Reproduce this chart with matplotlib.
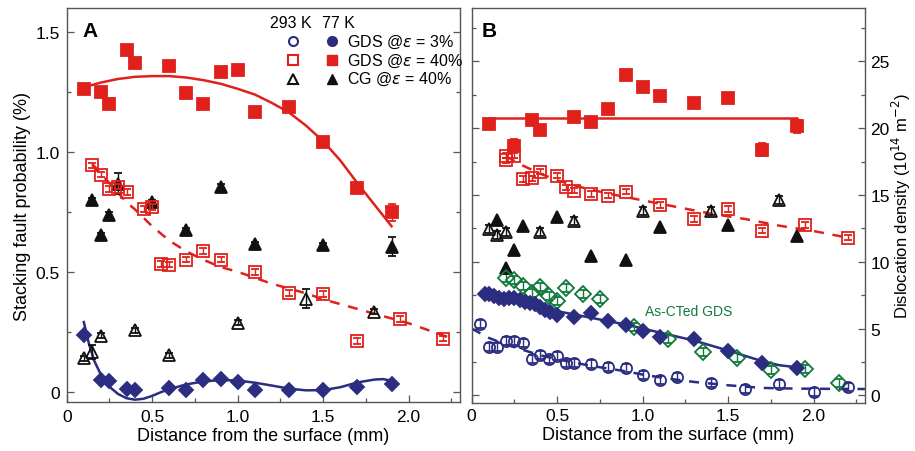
import numpy as np
import matplotlib.pyplot as plt
from matplotlib.ticker import MultipleLocator

plt.rcParams["font.family"] = ["Liberation Sans", "DejaVu Sans"]
plt.rcParams["mathtext.fontset"] = "dejavusans"

RED = "#e0201b"
BLUE = "#2a2d80"
GREEN = "#127a3c"
BLACK = "#111111"
SPINE = "#555555"

################################################################################
# Panel A - stacking fault probability (%)
################################################################################

# GDS @ 40%, 77 K (filled squares)
a_gds40_77_x = [0.1, 0.2, 0.25, 0.35, 0.4, 0.6, 0.7, 0.8, 0.9, 1.0, 1.1, 1.3, 1.5, 1.7, 1.9]
a_gds40_77_y = [1.263, 1.249, 1.202, 1.426, 1.370, 1.360, 1.245, 1.202, 1.335, 1.342, 1.168, 1.186, 1.040, 0.851, 0.748]
a_gds40_77_e = [0.02, 0.02, 0.02, 0.02, 0.02, 0.02, 0.02, 0.02, 0.02, 0.02, 0.02, 0.02, 0.02, 0.02, 0.035]

# GDS @ 40%, 293 K (open squares)
a_gds40_293_x = [0.15, 0.2, 0.25, 0.3, 0.35, 0.45, 0.5, 0.55, 0.6, 0.7, 0.8, 0.9, 1.1, 1.3, 1.5, 1.7, 1.95, 2.2]
a_gds40_293_y = [0.944, 0.906, 0.847, 0.856, 0.833, 0.763, 0.770, 0.532, 0.530, 0.551, 0.588, 0.551, 0.500, 0.412, 0.406, 0.212, 0.302, 0.221]
a_gds40_293_e = [0.012] * 18

# CG @ 40%, 77 K (filled triangles)
a_cg40_77_x = [0.15, 0.2, 0.25, 0.3, 0.5, 0.7, 0.9, 1.1, 1.5, 1.9]
a_cg40_77_y = [0.798, 0.652, 0.739, 0.868, 0.790, 0.674, 0.855, 0.615, 0.611, 0.604]
a_cg40_77_e = [0.01, 0.01, 0.01, 0.045, 0.01, 0.01, 0.01, 0.01, 0.01, 0.04]

# CG @ 40%, 293 K (open triangles)
a_cg40_293_x = [0.1, 0.15, 0.2, 0.4, 0.6, 1.0, 1.4, 1.8]
a_cg40_293_y = [0.138, 0.166, 0.233, 0.256, 0.152, 0.288, 0.388, 0.333]
a_cg40_293_e = [0.01, 0.03, 0.01, 0.01, 0.01, 0.01, 0.04, 0.01]

# GDS @ 3%, 77 K (filled diamonds)
a_gds3_77_x = [0.1, 0.2, 0.25, 0.35, 0.4, 0.6, 0.7, 0.8, 0.9, 1.0, 1.1, 1.3, 1.5, 1.7, 1.9]
a_gds3_77_y = [0.238, 0.050, 0.045, 0.010, 0.008, 0.015, 0.005, 0.050, 0.054, 0.040, 0.008, 0.008, 0.008, 0.017, 0.033]

# Fitted curves
a_fit_red_x = [0.1, 0.2, 0.3, 0.4, 0.5, 0.6, 0.7, 0.8, 0.9, 1.0, 1.1, 1.2, 1.3, 1.4, 1.5, 1.6, 1.7, 1.8, 1.9]
a_fit_red_y = [1.270, 1.290, 1.305, 1.314, 1.317, 1.317, 1.311, 1.300, 1.285, 1.264, 1.240, 1.205, 1.165, 1.110, 1.045, 0.965, 0.870, 0.780, 0.690]

a_fit_reddash_x = [0.15, 0.2, 0.25, 0.3, 0.35, 0.4, 0.5, 0.6, 0.7, 0.8, 0.9, 1.0, 1.1, 1.2, 1.3, 1.4, 1.5, 1.6, 1.7, 1.8, 1.9, 2.0, 2.1, 2.2, 2.25]
a_fit_reddash_y = [0.950, 0.910, 0.870, 0.830, 0.790, 0.760, 0.690, 0.630, 0.585, 0.550, 0.520, 0.500, 0.475, 0.450, 0.430, 0.410, 0.385, 0.365, 0.345, 0.325, 0.305, 0.285, 0.260, 0.235, 0.220]

a_fit_blue_x = [0.1, 0.13, 0.16, 0.2, 0.25, 0.3, 0.35, 0.4, 0.45, 0.5, 0.55, 0.6, 0.7, 0.8, 0.9, 1.0, 1.1, 1.2, 1.3, 1.4, 1.5, 1.6, 1.7, 1.8, 1.85, 1.9]
a_fit_blue_y = [0.290, 0.200, 0.130, 0.070, 0.020, -0.010, -0.028, -0.034, -0.030, -0.018, -0.003, 0.010, 0.030, 0.042, 0.048, 0.046, 0.037, 0.025, 0.012, 0.005, 0.006, 0.018, 0.038, 0.050, 0.052, 0.045]

################################################################################
# Panel B - dislocation density (10^14 m^-2)
################################################################################

b_gds40_77_x = [0.1, 0.25, 0.35, 0.4, 0.6, 0.7, 0.8, 0.9, 1.0, 1.1, 1.3, 1.5, 1.7, 1.9]
b_gds40_77_y = [20.33, 18.70, 20.58, 19.90, 20.83, 20.50, 21.45, 24.00, 23.08, 22.38, 21.90, 22.28, 18.40, 20.15]
b_gds40_77_e = [0.3, 0.5, 0.3, 0.3, 0.3, 0.3, 0.3, 0.3, 0.3, 0.3, 0.3, 0.3, 0.5, 0.5]

b_gds40_293_x = [0.2, 0.2, 0.25, 0.3, 0.35, 0.4, 0.5, 0.55, 0.6, 0.7, 0.8, 0.9, 1.1, 1.3, 1.5, 1.7, 1.95, 2.2]
b_gds40_293_y = [17.95, 17.60, 17.95, 16.20, 16.25, 16.75, 16.45, 15.58, 15.33, 15.08, 14.95, 15.25, 14.25, 13.20, 13.95, 12.33, 12.75, 11.80]
b_gds40_293_e = [0.2] * 18

b_cg40_77_x = [0.15, 0.2, 0.25, 0.3, 0.5, 0.7, 0.9, 1.1, 1.5, 1.9]
b_cg40_77_y = [13.10, 9.50, 10.85, 12.65, 13.33, 10.42, 10.15, 12.58, 12.75, 11.95]

b_cg40_293_x = [0.1, 0.15, 0.2, 0.4, 0.6, 1.0, 1.4, 1.8]
b_cg40_293_y = [12.45, 12.00, 12.20, 12.20, 13.08, 13.83, 13.83, 14.63]
b_cg40_293_e = [0.3] * 8

b_asct_x = [0.2, 0.25, 0.3, 0.35, 0.4, 0.45, 0.5, 0.55, 0.65, 0.75, 0.95, 1.15, 1.35, 1.55, 1.75, 1.95, 2.15]
b_asct_y = [8.75, 8.63, 8.15, 7.63, 8.08, 7.45, 7.08, 8.00, 7.58, 7.20, 5.08, 4.20, 3.25, 2.83, 1.90, 2.00, 0.95]
b_asct_e = [0.3] * 17

b_gds3_77_x = [0.08, 0.1, 0.13, 0.16, 0.19, 0.22, 0.25, 0.28, 0.31, 0.34, 0.37, 0.4, 0.43, 0.46, 0.5, 0.6, 0.7, 0.8, 0.9, 1.0, 1.1, 1.3, 1.5, 1.7, 1.9]
b_gds3_77_y = [7.60, 7.55, 7.40, 7.30, 7.20, 7.25, 7.30, 7.10, 7.00, 6.90, 6.80, 6.60, 6.40, 6.20, 6.00, 5.90, 6.15, 5.55, 5.30, 4.80, 4.40, 4.20, 3.30, 2.45, 2.05]

b_gds3_293_x = [0.05, 0.1, 0.15, 0.2, 0.25, 0.3, 0.35, 0.4, 0.45, 0.5, 0.55, 0.6, 0.7, 0.8, 0.9, 1.0, 1.1, 1.2, 1.4, 1.6, 1.8, 2.0, 2.2]
b_gds3_293_y = [5.33, 3.65, 3.65, 4.07, 4.07, 3.90, 2.70, 3.02, 2.70, 2.95, 2.40, 2.40, 2.33, 2.15, 2.03, 1.50, 1.15, 1.40, 0.95, 0.45, 0.88, 0.25, 0.65]
b_gds3_293_e = [0.3] * 23

b_fit_red_x = [0.1, 1.9]
b_fit_red_y = [20.8, 20.8]

b_fit_reddash_x = [0.2, 0.3, 0.4, 0.5, 0.6, 0.8, 1.0, 1.2, 1.4, 1.6, 1.8, 2.0, 2.2]
b_fit_reddash_y = [17.9, 17.2, 16.6, 16.1, 15.7, 15.1, 14.6, 14.1, 13.6, 13.2, 12.7, 12.3, 11.8]

b_fit_blue_x = [0.08, 0.3, 0.5, 0.7, 0.9, 1.1, 1.3, 1.5, 1.7, 1.8, 1.9]
b_fit_blue_y = [7.6, 7.0, 6.3, 5.8, 5.3, 4.7, 4.1, 3.35, 2.55, 2.25, 2.1]

b_fit_bluedash_x = [0.0, 0.1, 0.2, 0.3, 0.4, 0.5, 0.7, 0.9, 1.0, 1.15, 1.3, 1.5, 1.7, 1.9, 2.1, 2.3]
b_fit_bluedash_y = [5.0, 4.3, 3.8, 3.4, 3.0, 2.7, 2.2, 1.8, 1.55, 1.25, 1.0, 0.75, 0.55, 0.5, 0.48, 0.47]

x_ticks = [0, 0.5, 1.0, 1.5, 2.0]
x_ticklabels = ["0", "0.5", "1.0", "1.5", "2.0"]
a_yticks = [0, 0.5, 1.0, 1.5]
a_yticklabels = ["0", "0.5", "1.0", "1.5"]
b_yticks = [0, 5, 10, 15, 20, 25]
b_yticklabels = ["0", "5", "10", "15", "20", "25"]

legend_labels = [r"GDS @$\varepsilon$ = 3%", r"GDS @$\varepsilon$ = 40%", r"CG @$\varepsilon$ = 40%"]

LABEL_FS = 13
TICK_FS = 12.5


def points(ax, x, y, marker, color, filled, ms, err=None, z=4):
    ax.errorbar(x, y, yerr=err, fmt=marker, ms=ms, mfc=color if filled else "none",
                mec=color, mew=1.3, ecolor=color, elinewidth=1.0, capsize=3,
                capthick=1.0, zorder=z)


def style_axes(ax, ylim, yminor):
    ax.set_xlim(0, 2.3)
    ax.set_ylim(*ylim)
    ax.set_xticks(x_ticks, labels=x_ticklabels)
    ax.xaxis.set_minor_locator(MultipleLocator(0.25))
    ax.yaxis.set_minor_locator(MultipleLocator(yminor))
    ax.tick_params(which="both", direction="in", left=True, right=True, top=False,
                   bottom=True, color=SPINE, width=0.9, labelsize=TICK_FS, pad=5)
    ax.tick_params(which="major", length=5)
    ax.tick_params(which="minor", length=3)
    for s in ax.spines.values():
        s.set_color(SPINE)
        s.set_linewidth(1.0)
    ax.set_xlabel("Distance from the surface (mm)", fontsize=LABEL_FS, labelpad=2)


fig = plt.figure(figsize=(9.15, 4.52), dpi=100)
ax_a = fig.add_axes([0.0729, 0.1077, 0.4298, 0.8717])
ax_b = fig.add_axes([0.5155, 0.1070, 0.4298, 0.8730])

# ---- Panel A
ax_a.plot(a_fit_red_x, a_fit_red_y, color=RED, lw=1.8, zorder=2)
ax_a.plot(a_fit_reddash_x, a_fit_reddash_y, color=RED, lw=1.8, ls=(0, (4, 3.5)), zorder=2)
ax_a.plot(a_fit_blue_x, a_fit_blue_y, color=BLUE, lw=1.8, zorder=2)

points(ax_a, a_cg40_293_x, a_cg40_293_y, "^", BLACK, False, 8, a_cg40_293_e)
points(ax_a, a_cg40_77_x, a_cg40_77_y, "^", BLACK, True, 9, a_cg40_77_e)
points(ax_a, a_gds40_293_x, a_gds40_293_y, "s", RED, False, 8, a_gds40_293_e, z=5)
points(ax_a, a_gds40_77_x, a_gds40_77_y, "s", RED, True, 8.5, a_gds40_77_e, z=5)
points(ax_a, a_gds3_77_x, a_gds3_77_y, "D", BLUE, True, 7.5, None, z=5)

style_axes(ax_a, (-0.045, 1.6), 0.25)
ax_a.set_yticks(a_yticks, labels=a_yticklabels)
ax_a.tick_params(labelleft=True, labelright=False)
ax_a.set_ylabel("Stacking fault probability (%)", fontsize=LABEL_FS, labelpad=3)
ax_a.text(0.04, 0.944, "A", transform=ax_a.transAxes, fontsize=15, fontweight="bold",
          va="center", ha="left")

# legend drawn by hand: open (293 K) column, filled (77 K) column, then label
leg_markers = ["o", "s", "^"]
leg_colors = [BLUE, RED, BLACK]
leg_rows_y = [0.917, 0.869, 0.821]
ax_a.text(0.518, 0.963, "293 K", transform=ax_a.transAxes, fontsize=11.5, va="center")
ax_a.text(0.649, 0.963, "77 K", transform=ax_a.transAxes, fontsize=11.5, va="center")
for mk, col, yy, lab in zip(leg_markers, leg_colors, leg_rows_y, legend_labels):
    ax_a.plot([0.576], [yy], mk, ms=6.5, mfc="none", mec=col, mew=1.5,
              transform=ax_a.transAxes, clip_on=False)
    ax_a.plot([0.674], [yy], mk, ms=7, mfc=col, mec=col,
              transform=ax_a.transAxes, clip_on=False)
    ax_a.text(0.712, yy, lab, transform=ax_a.transAxes, fontsize=11.5, va="center")

# ---- Panel B
ax_b.plot(b_fit_red_x, b_fit_red_y, color=RED, lw=1.8, zorder=2)
ax_b.plot(b_fit_reddash_x, b_fit_reddash_y, color=RED, lw=1.8, ls=(0, (4, 3.5)), zorder=2)
ax_b.plot(b_fit_blue_x, b_fit_blue_y, color=BLUE, lw=1.8, zorder=2)
ax_b.plot(b_fit_bluedash_x, b_fit_bluedash_y, color=BLUE, lw=1.8, ls=(0, (4, 3.5)), zorder=2)

points(ax_b, b_cg40_293_x, b_cg40_293_y, "^", BLACK, False, 8, b_cg40_293_e)
points(ax_b, b_cg40_77_x, b_cg40_77_y, "^", BLACK, True, 9, None)
points(ax_b, b_gds40_293_x, b_gds40_293_y, "s", RED, False, 8, b_gds40_293_e, z=5)
points(ax_b, b_gds40_77_x, b_gds40_77_y, "s", RED, True, 8.5, b_gds40_77_e, z=5)
points(ax_b, b_asct_x, b_asct_y, "D", GREEN, False, 8, b_asct_e, z=4)
points(ax_b, b_gds3_77_x, b_gds3_77_y, "D", BLUE, True, 7.5, None, z=5)
points(ax_b, b_gds3_293_x, b_gds3_293_y, "o", BLUE, False, 8, b_gds3_293_e, z=5)

style_axes(ax_b, (-0.55, 29.0), 2.5)
ax_b.set_yticks(b_yticks, labels=b_yticklabels)
ax_b.tick_params(labelleft=False, labelright=True, pad=4)
ax_b.yaxis.set_label_position("right")
ax_b.set_ylabel(r"Dislocation density (10$^{14}$ m$^{-2}$)", fontsize=12, labelpad=0)
ax_b.text(0.026, 0.944, "B", transform=ax_b.transAxes, fontsize=15, fontweight="bold",
          va="center", ha="left")
ax_b.text(1.27, 6.3, "As-CTed GDS", color=GREEN, fontsize=10, ha="center", va="center")

fig.savefig("out.png", dpi=100)
